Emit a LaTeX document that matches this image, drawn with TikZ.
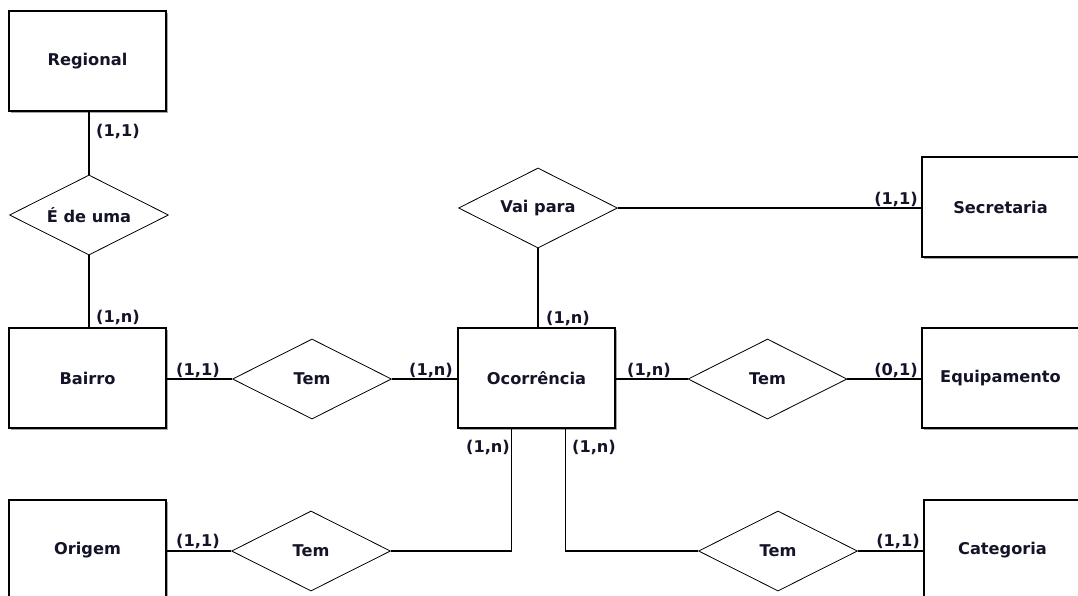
\documentclass[tikz,border=0pt]{standalone}
\usepackage{fontspec}
\setmainfont{DejaVu Sans}
\usetikzlibrary{shapes.geometric,shadows}
\definecolor{ink}{HTML}{141428}
\tikzset{
  lbl/.style={font=\bfseries\fontsize{16.2}{19}\selectfont, text=ink},
  entity/.style={lbl, draw=black, line width=1.2pt, fill=white, rectangle, minimum width=157pt, minimum height=100pt, inner sep=0pt,
    general shadow={shadow xshift=2pt, shadow yshift=-2pt, fill=gray!70}},
  rel/.style={lbl, draw=black, line width=0.8pt, fill=white, diamond, minimum width=159pt, minimum height=80pt, inner sep=0pt, aspect=2},
  card/.style={lbl, inner sep=0pt},
  conn/.style={draw=black, line width=1.2pt}
}
\begin{document}
\begin{tikzpicture}[x=1pt,y=-1pt]
\useasboundingbox (0,0) rectangle (1078,595);
% entities
\node[entity] (regional) at (87.5,61) {Regional};
\node[entity] (bairro) at (87.5,378) {Bairro};
\node[entity] (ocor) at (536.5,378) {Ocorrência};
\node[entity] (secr) at (1000.5,207) {Secretaria};
\node[entity] (equip) at (1000.5,378) {Equipamento};
\node[entity] (origem) at (87.5,550) {Origem};
\node[entity] (categ) at (1002.5,550) {Categoria};
% relationships
\node[rel] (ede) at (89,215) {É de uma};
\node[rel] (tem1) at (312,379) {Tem};
\node[rel] (vai) at (538,208) {Vai para};
\node[rel] (tem2) at (767.5,379) {Tem};
\node[rel] (tem3) at (311,551) {Tem};
\node[rel] (tem4) at (778,551) {Tem};
% attachment points under Ocorrência
\coordinate (ocl) at ([xshift=54pt]ocor.south west);
\coordinate (ocr) at ([xshift=108pt]ocor.south west);
% connectors
\draw[conn] (ede.north |- regional.south) -- (ede.north);
\draw[conn] (ede.south) -- (ede.south |- bairro.north);
\draw[conn] (bairro.east |- tem1.west) -- (tem1.west);
\draw[conn] (tem1.east) -- (tem1.east -| ocor.west);
\draw[conn] (vai.south) -- (vai.south |- ocor.north);
\draw[conn] (vai.east) -- (vai.east -| secr.west);
\draw[conn] (ocor.east |- tem2.west) -- (tem2.west);
\draw[conn] (tem2.east) -- (tem2.east -| equip.west);
\draw[conn] (origem.east |- tem3.west) -- (tem3.west);
\draw[conn] (tem3.east) -| (ocl);
\draw[conn] (tem4.west) -| (ocr);
\draw[conn] (tem4.east) -- (tem4.east -| categ.west);
% cardinalities
\node[card] (c1) at (118,131) {(1,1)};
\node[card] (c2) at (118,317) {(1,n)};
\node[card] (c3) at (198,370) {(1,1)};
\node[card] (c4) at (431,370) {(1,n)};
\node[card] (c5) at (568,318) {(1,n)};
\node[card] (c6) at (649,370) {(1,n)};
\node[card] (c7) at (488,447) {(1,n)};
\node[card] (c8) at (594,447) {(1,n)};
\node[card] (c9) at (896,199) {(1,1)};
\node[card] (c10) at (896,370) {(0,1)};
\node[card] (c11) at (198,541) {(1,1)};
\node[card] (c12) at (898,541) {(1,1)};
\end{tikzpicture}
\end{document}
